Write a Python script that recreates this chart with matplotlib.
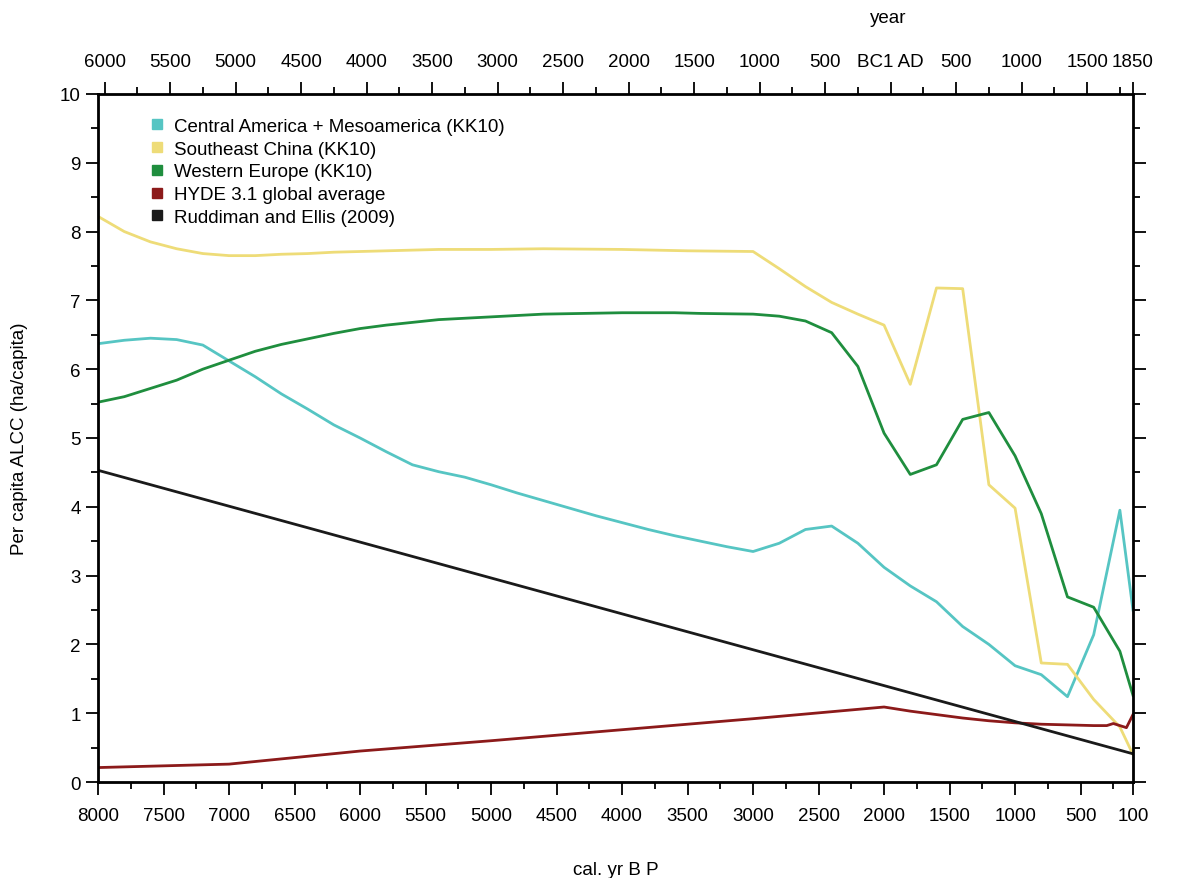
import numpy as np
import matplotlib
matplotlib.use("Agg")
import matplotlib.pyplot as plt
from matplotlib.ticker import MultipleLocator, FixedLocator

plt.rcParams['font.family'] = ['Liberation Sans', 'DejaVu Sans']

# data (cal. yr BP)
cam_x = [8000, 7800, 7600, 7400, 7200, 7000, 6800, 6600, 6400, 6200, 6000, 5800, 5600, 5400, 5200, 5000,
         4800, 4600, 4400, 4200, 4000, 3800, 3600, 3400, 3200, 3000, 2800, 2600, 2400, 2200, 2000, 1800,
         1600, 1400, 1200, 1000, 800, 600, 400, 200, 100]
cam_y = [6.37, 6.42, 6.45, 6.43, 6.35, 6.12, 5.89, 5.64, 5.42, 5.19, 5.0, 4.8, 4.61, 4.51, 4.43, 4.32,
         4.2, 4.09, 3.98, 3.87, 3.77, 3.67, 3.58, 3.5, 3.42, 3.35, 3.47, 3.67, 3.72, 3.47, 3.12, 2.85,
         2.62, 2.26, 2.0, 1.69, 1.56, 1.24, 2.14, 3.95, 2.5]

sec_x = [8000, 7800, 7600, 7400, 7200, 7000, 6800, 6600, 6400, 6200, 6000, 5800, 5600, 5400, 5000, 4600,
         4000, 3500, 3000, 2800, 2600, 2400, 2200, 2000, 1800, 1600, 1400, 1200, 1000, 800, 600, 400, 200, 100]
sec_y = [8.22, 8.0, 7.85, 7.75, 7.68, 7.65, 7.65, 7.67, 7.68, 7.70, 7.71, 7.72, 7.73, 7.74, 7.74, 7.75,
         7.74, 7.72, 7.71, 7.46, 7.2, 6.97, 6.8, 6.64, 5.78, 7.18, 7.17, 4.32, 3.98, 1.73, 1.71, 1.2, 0.8, 0.4]

weu_x = [8000, 7800, 7600, 7400, 7200, 7000, 6800, 6600, 6400, 6200, 6000, 5800, 5600, 5400, 5000, 4600,
         4000, 3600, 3400, 3000, 2800, 2600, 2400, 2200, 2000, 1800, 1600, 1400, 1200, 1000, 800, 600, 400, 200, 100]
weu_y = [5.52, 5.6, 5.72, 5.84, 6.0, 6.13, 6.26, 6.36, 6.44, 6.52, 6.59, 6.64, 6.68, 6.72, 6.76, 6.8,
         6.82, 6.82, 6.81, 6.8, 6.77, 6.7, 6.53, 6.04, 5.07, 4.47, 4.61, 5.27, 5.37, 4.74, 3.9, 2.69, 2.54, 1.9, 1.26]

hyde_x = [8000, 7000, 6000, 5000, 4000, 3000, 2000, 1800, 1600, 1400, 1200, 1000, 800, 600, 400, 300, 250, 150, 100]
hyde_y = [0.21, 0.26, 0.45, 0.6, 0.76, 0.92, 1.09, 1.03, 0.98, 0.93, 0.89, 0.86, 0.84, 0.83, 0.82, 0.82, 0.85, 0.79, 0.98]

re_x = [8000, 100]
re_y = [4.53, 0.41]

series = [
    ("Central America + Mesoamerica (KK10)", cam_x, cam_y, "#56c5c3"),
    ("Southeast China (KK10)", sec_x, sec_y, "#eedc78"),
    ("Western Europe (KK10)", weu_x, weu_y, "#1f8e3e"),
    ("HYDE 3.1 global average", hyde_x, hyde_y, "#8c1a1a"),
    ("Ruddiman and Ellis (2009)", re_x, re_y, "#1a1a1a"),
]

top_labels = ["6000", "5500", "5000", "4500", "4000", "3500", "3000", "2500", "2000", "1500", "1000", "500",
              "BC1 AD", "500", "1000", "1500", "1850"]
top_pos = [7950, 7450, 6950, 6450, 5950, 5450, 4950, 4450, 3950, 3450, 2950, 2450,
           1950, 1450, 950, 450, 100]

fig = plt.figure(figsize=(11.77, 8.79), dpi=100)
ax = fig.add_axes([0.0833, 0.1092, 0.8793, 0.7828])

for name, xs, ys, c in series:
    ax.plot(xs, ys, color=c, lw=2)
    ax.plot([], [], 's', color=c, ms=7, label=name)

ax.set_xlim(8000, 100)
ax.set_ylim(0, 10)
ax.set_xticks([8000, 7500, 7000, 6500, 6000, 5500, 5000, 4500, 4000, 3500, 3000, 2500, 2000, 1500, 1000, 500, 100])
ax.xaxis.set_minor_locator(MultipleLocator(250))
ax.yaxis.set_major_locator(MultipleLocator(1))
ax.yaxis.set_minor_locator(MultipleLocator(0.5))
ax.tick_params(which='both', direction='out', labelsize=13.5, width=1.3, right=True)
ax.tick_params(which='major', length=9)
ax.tick_params(which='minor', length=5)
ax.tick_params(axis='x', pad=9)
for s in ax.spines.values():
    s.set_linewidth(2)

top = ax.twiny()
top.set_xlim(ax.get_xlim())
top.xaxis.set_major_locator(FixedLocator(top_pos))
top.set_xticklabels(top_labels)
top.xaxis.set_minor_locator(FixedLocator([p - 250 for p in top_pos[:-1]]))
top.tick_params(which='both', direction='out', labelsize=13.5, width=1.3, pad=8)
top.tick_params(which='major', length=9)
top.tick_params(which='minor', length=5)
top.set_xlabel("year", fontsize=13.5)
top.xaxis.set_label_coords(0.763, 1.105)

ax.set_xlabel("cal. yr B P", fontsize=13.5)
ax.xaxis.set_label_coords(0.5, -0.115)
ax.set_ylabel("Per capita ALCC (ha/capita)", fontsize=13.5)
ax.yaxis.set_label_coords(-0.068, 0.5)

ax.legend(loc='upper left', bbox_to_anchor=(0.035, 0.99), frameon=False, fontsize=13.5,
          handlelength=0.6, handletextpad=0.6, labelspacing=0.3)

fig.savefig("out.png", dpi=100)
